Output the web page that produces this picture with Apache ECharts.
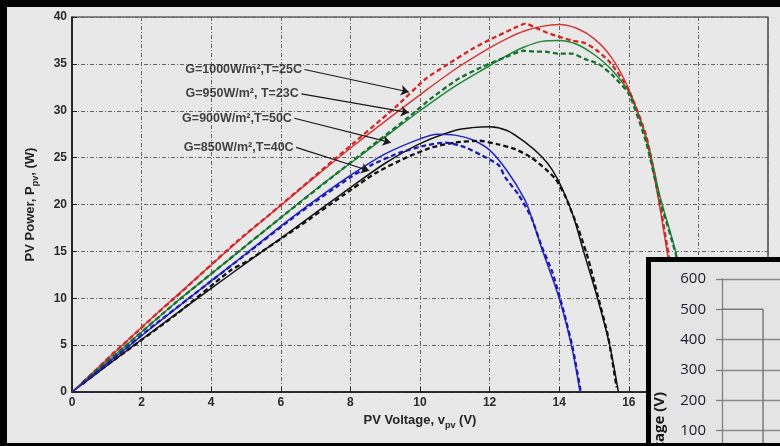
<!DOCTYPE html>
<html>
<head>
<meta charset="utf-8">
<title>PV Power vs Voltage</title>
<script src="https://cdn.jsdelivr.net/npm/echarts@6.0.0/dist/echarts.min.js"></script>
<style>
html,body{margin:0;padding:0;background:#e8e8e8;}
#chart{width:780px;height:446px;}
</style>
</head>
<body>
<div id="chart"></div>
<script>
// 模型曲线 [V, P]
var redModel = [[0,0],[1,3.45],[2,6.9],[3,10.25],[4,13.55],[5,16.8],[6,19.9],[7,23.0],[8,26.0],[9,28.9],[10,31.7],[11,34.4],[12,36.7],[12.5,37.7],[13,38.5],[13.5,39.0],[14,39.2],[14.5,38.8],[15,37.7],[15.5,35.7],[16,32.3],[16.5,27.0],[16.85,20.6],[17.1,15.0],[17.4,8.5],[17.65,2.5],[17.75,0]];
var greenModel = [[0,0],[1,3.2],[2,6.4],[3,9.6],[4,12.6],[5,15.6],[6,18.6],[7,21.6],[8,24.4],[9,27.2],[10,30.0],[11,32.6],[12,34.8],[12.5,35.9],[13,36.8],[13.5,37.4],[14,37.5],[14.5,37.1],[15,36.0],[15.5,34.4],[16,32.0],[16.5,27.2],[16.9,20.8],[17.37,14.6],[17.7,8.0],[18,0]];
var blackModel = [[0,0],[1,2.8],[2,5.6],[3,8.35],[4,11.05],[5,13.75],[6,16.4],[7,19.1],[8,21.8],[9,24.4],[10,26.5],[11,27.9],[11.5,28.2],[12,28.3],[12.5,27.9],[13,26.7],[13.5,25.1],[13.8,23.7],[14.1,21.6],[14.4,18.8],[14.7,15.0],[15.1,10.0],[15.45,5.0],[15.7,0]];
var blueModel = [[0,0],[1,3.0],[2,6.0],[3,8.95],[4,11.85],[5,14.75],[6,17.7],[7,20.5],[8,23.1],[9,25.4],[10,27.0],[10.5,27.5],[11,27.4],[11.5,26.9],[12,25.8],[12.5,23.6],[13,20.6],[13.2,18.7],[13.5,15.3],[14,10.0],[14.35,5.0],[14.6,0]];

// 实测数据 [V, P]
var redExp = [[0.3,1.0],[0.7,2.4],[1.2,4.2],[1.6,5.5],[2.57,8.8],[2.95,10.0],[4.72,16.0],[5.67,18.9],[7.6,25.0],[9.3,30.4],[10.16,33.4],[10.73,34.8],[11.55,36.7],[12.07,37.7],[12.7,38.8],[13.03,39.3],[13.3,38.9],[13.6,38.4],[13.9,38.0],[14.36,37.5],[14.75,37.2],[15.13,36.3],[15.5,35.0],[16,32.2],[16.5,27.3],[16.85,21.0],[17.1,15.6],[17.4,9.0],[17.7,1.5]];
var greenExp = [[0.3,1.0],[0.8,2.6],[1.5,4.8],[3,9.6],[4.5,14.1],[6,18.6],[7.5,23.0],[8.8,26.8],[9.6,29.1],[10.35,31.4],[11.1,33.4],[11.8,34.7],[12.45,35.7],[12.98,36.4],[13.3,36.3],[13.6,36.3],[13.98,36.1],[14.36,36.1],[14.75,35.5],[15.13,35.0],[15.5,33.9],[16,31.8],[16.5,26.6],[16.9,20.4],[17.37,14.4],[17.7,7.5],[17.95,0]];
var blackExp = [[0.3,0.85],[0.8,2.3],[1.5,4.2],[3,8.3],[4.53,12.9],[5.1,14.1],[6.5,17.6],[7.8,21.0],[8.7,23.3],[9.6,25.0],[10.35,26.1],[11.0,26.6],[11.7,26.8],[12.26,26.4],[12.74,25.9],[13.2,25.0],[13.6,23.8],[13.9,22.7],[14.17,20.9],[14.56,17.3],[14.84,14.1],[15.1,10.4],[15.4,6.0],[15.65,0.5]];
var blueExp = [[0.3,0.9],[0.8,2.4],[1.5,4.5],[2.14,6.5],[3.5,10.4],[5,14.7],[6.5,19.0],[8,22.9],[8.6,24.2],[9.4,25.5],[10.16,26.3],[10.73,26.6],[11.3,26.1],[11.79,25.2],[12.26,24.2],[12.45,22.9],[12.84,21.0],[13.2,18.6],[13.5,15.5],[13.8,12.8],[14.1,9.0],[14.4,4.5],[14.62,0]];

// 标注文字及箭头(数据坐标)
var noteText = ['G=1000W/m²,T=25C','G=950W/m², T=23C','G=900W/m²,T=50C','G=850W/m²,T=40C'];
var noteFrom = [[6.68,34.4],[6.59,31.8],[6.39,29.2],[6.44,26.1]];
var noteTo = [[9.68,32.0],[9.68,29.8],[9.16,26.6],[8.54,23.6]];

// 右下角小图
var stepT = [0,0.5,0.5];
var stepV = [500,500,0];

var font = 'Liberation Sans';
var chart = echarts.init(document.getElementById('chart'));

function model(data,color){
    return {type:'line',data:data,smooth:0.3,symbol:'none',lineStyle:{color:color,width:1.5},z:2};
}
function exp(data,color){
    return {type:'line',data:data,smooth:0.2,symbol:'none',lineStyle:{color:color,width:2.3,type:[5,3]},z:3};
}
var titleStyle = {
    fontFamily:font,fontSize:13,fontWeight:'bold',color:'#262626',
    rich:{
        n:{fontFamily:font,fontSize:13,fontWeight:'bold',color:'#262626',lineHeight:20,verticalAlign:'middle'},
        s:{fontFamily:font,fontSize:9,fontWeight:'bold',color:'#262626',lineHeight:12,verticalAlign:'bottom'}
    }
};
var grid = {show:true,lineStyle:{color:'#666',width:1,type:[4,2,1,2]}};
var tickLabel = {fontFamily:font,fontSize:12,fontWeight:'bold',color:'#2b2b2b',margin:5};

var option = {
    animation:false,
    backgroundColor:'#e8e8e8',
    grid:[
        {left:72,top:17,right:12,bottom:54,show:true,borderColor:'#222',borderWidth:1.2,backgroundColor:'transparent',outerBoundsMode:'none'},
        {left:722,top:279,width:164,height:182,outerBoundsMode:'none'}
    ],
    xAxis:[{
        type:'value',gridIndex:0,min:0,max:20,interval:2,
        name:'{n|PV Voltage, v}{s|pv}{n| (V)}',nameLocation:'middle',nameGap:18,nameTextStyle:titleStyle,
        axisLine:{show:true,lineStyle:{color:'#111',width:1.5}},
        axisTick:{show:true,inside:true,length:5,lineStyle:{color:'#222'}},
        axisLabel:tickLabel,splitLine:grid
    },{
        type:'value',gridIndex:1,min:0,max:2,show:false
    }],
    yAxis:[{
        type:'value',gridIndex:0,min:0,max:40,interval:5,
        name:'{n|PV Power, P}{s|pv}{n|, (W)}',nameLocation:'middle',nameGap:32,nameRotate:90,nameTextStyle:titleStyle,
        axisLine:{show:true,lineStyle:{color:'#111',width:1.5}},
        axisTick:{show:true,inside:true,length:5,lineStyle:{color:'#222'}},
        axisLabel:tickLabel,splitLine:grid
    },{
        type:'value',gridIndex:1,min:0,max:600,interval:100,z:60,
        axisLine:{show:true,lineStyle:{color:'#808080',width:1.3}},
        axisTick:{show:true,length:6,lineStyle:{color:'#808080',width:1.3}},
        axisLabel:{fontFamily:'Open Sans',fontSize:15,color:'#202030',margin:16},
        splitLine:{show:true,lineStyle:{color:['#8a8a8a','#8a8a8a','#8a8a8a','#8a8a8a','#8a8a8a','rgba(0,0,0,0)','#8a8a8a'],width:1.3}}
    }],
    graphic:[
        {type:'rect',z:50,shape:{x:648.5,y:259.5,width:200,height:250},style:{fill:'#e4e4e4',stroke:'#000',lineWidth:5}},
        {type:'text',z:62,x:660,y:432,rotation:Math.PI/2,style:{text:'Voltage (V)',fontFamily:'Open Sans',fontSize:15,fontWeight:'bold',fill:'#1a1a1a',align:'center',verticalAlign:'middle'}},
        {type:'rect',z:100,shape:{x:0,y:0,width:780,height:7},style:{fill:'#000'}},
        {type:'rect',z:100,shape:{x:0,y:0,width:7,height:446},style:{fill:'#000'}},
        {type:'rect',z:100,shape:{x:0,y:443,width:780,height:3},style:{fill:'#000'}}
    ],
    series:[
        model(redModel,'#d03a3a'),
        model(greenModel,'#1f8a3c'),
        model(blackModel,'#141414'),
        model(blueModel,'#2424c0'),
        exp(redExp,'#d42424'),
        exp(greenExp,'#17702e'),
        exp(blackExp,'#111'),
        exp(blueExp,'#1a1ab4'),
        {
            type:'scatter',data:noteFrom,symbolSize:1,itemStyle:{color:'rgba(0,0,0,0)'},z:5,
            label:{show:true,position:'left',distance:2,fontFamily:font,fontSize:12.5,fontWeight:'bold',color:'#151515',
                formatter:function(p){return noteText[p.dataIndex];}},
            markLine:{
                silent:true,symbol:['none','arrow'],symbolSize:8,label:{show:false},
                lineStyle:{color:'#1a1a1a',width:1.2,type:'solid'},
                data:noteFrom.map(function(a,i){return [{coord:a},{coord:noteTo[i]}];})
            }
        },
        {
            type:'line',xAxisIndex:1,yAxisIndex:1,z:61,symbol:'none',
            data:stepT.map(function(t,i){return [t,stepV[i]];}),
            lineStyle:{color:'#7a7a7a',width:1.5}
        }
    ]
};
chart.setOption(option);
</script>
</body>
</html>
